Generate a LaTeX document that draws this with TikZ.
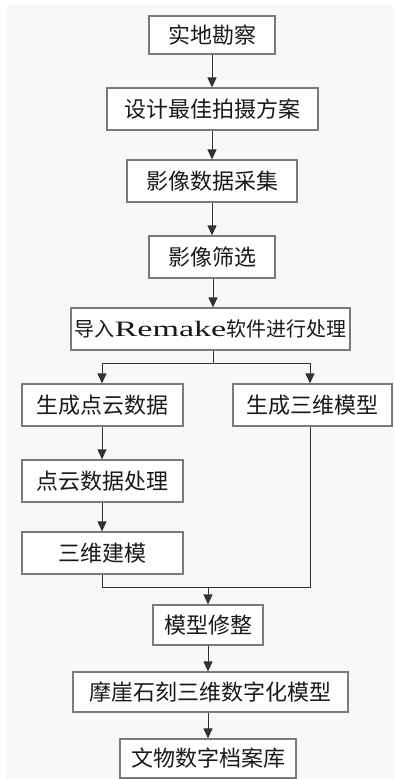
\documentclass[tikz,border=0pt]{standalone}
\usepackage{fontspec}
\usepackage{graphicx}
\newfontfamily\cjk{Noto Sans CJK SC}
\newfontfamily\latinserif{Liberation Serif}
\usetikzlibrary{arrows.meta}
\definecolor{bgcol}{HTML}{F8F8F8}
\definecolor{boxcol}{HTML}{7A7A7A}
\definecolor{linecol}{HTML}{333333}
\tikzset{
  stepbox/.style={draw=boxcol, line width=1.2pt, fill=white, inner sep=0pt,
    font=\cjk\fontsize{22}{22}\selectfont, text=black!90},
  flow/.style={draw=linecol, line width=1pt, -{Triangle[width=9pt,length=10pt]}},
  plain/.style={draw=linecol, line width=1pt}
}
\begin{document}
\begin{tikzpicture}[x=1pt,y=-1pt]
\useasboundingbox (0,0) rectangle (394,779);
\fill[white] (0,0) rectangle (394,779);
\fill[bgcol] (7,5) rectangle (394,779);

\node[stepbox, minimum width=126pt, minimum height=38pt] (b1) at (212,35) {实地勘察};
\node[stepbox, minimum width=211pt, minimum height=42pt] (b2) at (212.5,109) {设计最佳拍摄方案};
\node[stepbox, minimum width=170pt, minimum height=42pt] (b3) at (212,181) {影像数据采集};
\node[stepbox, minimum width=126pt, minimum height=42pt] (b4) at (212,257) {影像筛选};
\node[stepbox, minimum width=279pt, minimum height=42pt, font=\cjk\fontsize{20}{20}\selectfont] (b5) at (210.5,329)
  {导入{\latinserif\fontsize{22}{22}\selectfont\scalebox{1.55}[1]{Remake}}软件进行处理};
\node[stepbox, minimum width=161pt, minimum height=42pt] (b6) at (102.5,405) {生成点云数据};
\node[stepbox, minimum width=159pt, minimum height=42pt] (b7) at (312.5,405) {生成三维模型};
\node[stepbox, minimum width=161pt, minimum height=42pt] (b8) at (102.5,481) {点云数据处理};
\node[stepbox, minimum width=161pt, minimum height=42pt] (b9) at (102.5,553) {三维建模};
\node[stepbox, minimum width=110pt, minimum height=40pt] (b10) at (208,625) {模型修整};
\node[stepbox, minimum width=275pt, minimum height=40pt] (b11) at (210.5,692) {摩崖石刻三维数字化模型};
\node[stepbox, minimum width=176pt, minimum height=39pt] (b12) at (208,758.5) {文物数字档案库};

\coordinate (split) at (213,363);
\coordinate (splitL) at (102,363);
\coordinate (splitR) at (310,363);
\coordinate (mergeL) at (102,587);
\coordinate (mergeR) at (310,587);
\coordinate (merge) at (208,587);

\draw[flow] (b1.south -| 212,0) -- (b2.north -| 212,0);
\draw[flow] (b2.south -| 212,0) -- (b3.north -| 212,0);
\draw[flow] (b3.south -| 212,0) -- (b4.north -| 212,0);
\draw[flow] (b4.south -| 213,0) -- (b5.north -| 213,0);
\draw[plain] (b5.south -| split) -- (split);
\draw[plain] (splitL) -- (splitR);
\draw[flow] (splitL) -- (b6.north -| splitL);
\draw[flow] (splitR) -- (b7.north -| splitR);
\draw[flow] (b6.south -| 102,0) -- (b8.north -| 102,0);
\draw[flow] (b8.south -| 102,0) -- (b9.north -| 102,0);
\draw[plain] (b9.south -| mergeL) -- (mergeL) -- (mergeR) -- (b7.south -| mergeR);
\draw[flow] (merge) -- (b10.north -| merge);
\draw[flow] (b10.south -| 208,0) -- (b11.north -| 208,0);
\draw[flow] (b11.south -| 208,0) -- (b12.north -| 208,0);
\end{tikzpicture}
\end{document}
